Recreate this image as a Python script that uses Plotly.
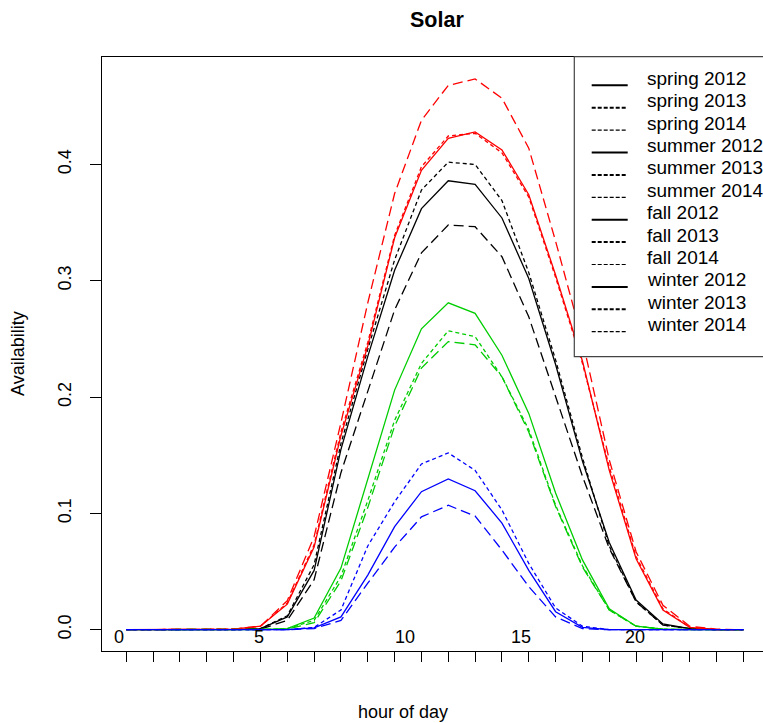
import plotly.graph_objects as go

# Hour of day (0-23)
hours = list(range(24))

# Average solar availability by hour, per season and year
spring_2012 = [0, 0, 0, 0, 0, 0.001, 0.011, 0.051, 0.155, 0.235, 0.309, 0.362,
               0.386, 0.383, 0.354, 0.302, 0.228, 0.145, 0.075, 0.0255, 0.005, 0.001, 0, 0]
spring_2013 = [0, 0, 0, 0, 0, 0.001, 0.012, 0.056, 0.160, 0.241, 0.318, 0.378,
               0.402, 0.400, 0.369, 0.307, 0.232, 0.148, 0.072, 0.024, 0.004, 0.001, 0, 0]
spring_2014 = [0, 0, 0, 0, 0, 0.0005, 0.008, 0.043, 0.135, 0.206, 0.275, 0.324,
               0.348, 0.3465, 0.3207, 0.269, 0.200, 0.132, 0.070, 0.024, 0.004, 0.001, 0, 0]

summer_2012 = [0, 0, 0, 0, 0.0005, 0.003, 0.022, 0.071, 0.167, 0.244, 0.337, 0.395,
               0.4225, 0.428, 0.4125, 0.374, 0.305, 0.231, 0.137, 0.061, 0.017, 0.002, 0, 0]
summer_2013 = [0, 0, 0, 0, 0.0005, 0.003, 0.023, 0.073, 0.170, 0.247, 0.339, 0.398,
               0.4245, 0.4268, 0.410, 0.372, 0.303, 0.229, 0.140, 0.063, 0.018, 0.002, 0, 0]
summer_2014 = [0, 0, 0, 0, 0.0005, 0.003, 0.025, 0.080, 0.178, 0.281, 0.375, 0.438,
               0.468, 0.4735, 0.457, 0.414, 0.334, 0.249, 0.146, 0.067, 0.021, 0.003, 0.0005, 0]

fall_2012 = [0, 0, 0, 0, 0, 0, 0.001, 0.010, 0.053, 0.129, 0.206, 0.2587,
             0.281, 0.272, 0.236, 0.186, 0.1175, 0.060, 0.018, 0.003, 0.0005, 0, 0, 0]
fall_2013 = [0, 0, 0, 0, 0, 0, 0.001, 0.008, 0.046, 0.111, 0.180, 0.229,
             0.257, 0.252, 0.2175, 0.172, 0.107, 0.055, 0.017, 0.003, 0.0005, 0, 0, 0]
fall_2014 = [0, 0, 0, 0, 0, 0, 0.0005, 0.006, 0.042, 0.105, 0.175, 0.225,
             0.2477, 0.245, 0.2175, 0.170, 0.106, 0.054, 0.017, 0.003, 0.0005, 0, 0, 0]

winter_2012 = [0, 0, 0, 0, 0, 0, 0, 0.0015, 0.011, 0.047, 0.0886, 0.1187,
               0.1296, 0.1195, 0.0917, 0.051, 0.0155, 0.002, 0, 0, 0, 0, 0, 0]
winter_2013 = [0, 0, 0, 0, 0, 0, 0, 0.002, 0.017, 0.072, 0.110, 0.1425,
               0.152, 0.137, 0.103, 0.057, 0.0187, 0.003, 0, 0, 0, 0, 0, 0]
winter_2014 = [0, 0, 0, 0, 0, 0, 0, 0.001, 0.008, 0.040, 0.071, 0.097,
               0.107, 0.0977, 0.0685, 0.037, 0.011, 0.001, 0, 0, 0, 0, 0, 0]

seasons = ["spring", "summer", "fall", "winter"]
years = ["2012", "2013", "2014"]
season_colors = {"spring": "#000000", "summer": "#FF0000",
                 "fall": "#00CD00", "winter": "#0000FF"}
year_dash = {"2012": "solid", "2013": "4px,3px", "2014": "10px,5px"}

series = {
    ("spring", "2012"): spring_2012, ("spring", "2013"): spring_2013, ("spring", "2014"): spring_2014,
    ("summer", "2012"): summer_2012, ("summer", "2013"): summer_2013, ("summer", "2014"): summer_2014,
    ("fall", "2012"): fall_2012, ("fall", "2013"): fall_2013, ("fall", "2014"): fall_2014,
    ("winter", "2012"): winter_2012, ("winter", "2013"): winter_2013, ("winter", "2014"): winter_2014,
}

# Hour labels written just under the zero line
hour_label_text = ["0", "5", "10", "15", "20"]
hour_label_pos = [-0.26, 4.96, 10.37, 14.7, 18.96]

y_ticks = [0.0, 0.1, 0.2, 0.3, 0.4]
y_tick_text = ["0.0", "0.1", "0.2", "0.3", "0.4"]

FONT = "Liberation Sans, Arial, Helvetica, sans-serif"
W, H = 763, 723
L, R, T, B = 102, 0, 57, 72
PW, PH = W - L - R, H - T - B


def px(x):
    return (x - L) / PW


def py(y):
    return (H - B - y) / PH


fig = go.Figure()
for s in seasons:
    for yr in years:
        fig.add_trace(go.Scatter(
            x=hours, y=series[(s, yr)], mode="lines",
            line=dict(color=season_colors[s], width=1.3, dash=year_dash[yr]),
            name=f"{s} {yr}", showlegend=False, hoverinfo="skip"))

annotations = []
shapes = []

# Hour labels
for txt, xv in zip(hour_label_text, hour_label_pos):
    annotations.append(dict(x=xv, y=-0.0063, xref="x", yref="y", text=txt,
                            showarrow=False, xanchor="center", yanchor="middle",
                            font=dict(family=FONT, size=18, color="black")))

# Titles
annotations.append(dict(x=px(437), y=py(20), xref="paper", yref="paper",
                        text="<b>Solar</b>", showarrow=False,
                        xanchor="center", yanchor="middle",
                        font=dict(family=FONT, size=21.5, color="black")))
annotations.append(dict(x=px(403), y=py(712), xref="paper", yref="paper",
                        text="hour of day", showarrow=False,
                        xanchor="center", yanchor="middle",
                        font=dict(family=FONT, size=18, color="black")))
annotations.append(dict(x=px(18), y=py(354), xref="paper", yref="paper",
                        text="Availability", showarrow=False, textangle=-90,
                        xanchor="center", yanchor="middle",
                        font=dict(family=FONT, size=18, color="black")))

# Legend box
shapes.append(dict(type="rect", xref="paper", yref="paper",
                   x0=px(574.3), x1=px(775), y0=py(356.7), y1=py(56.7),
                   line=dict(color="#444444", width=1.2), fillcolor="white",
                   layer="above"))

legend_width = {"2012": 2.0, "2013": 2.0, "2014": 1.2}
legend_dash = {"2012": "solid", "2013": "4px,2px", "2014": "4px,2px"}
row = 0
for s in seasons:
    for yr in years:
        yc = 78.3 + 22.4 * row
        shapes.append(dict(type="line", xref="paper", yref="paper",
                           x0=px(591.7), x1=px(627.7), y0=py(yc + 7), y1=py(yc + 7),
                           line=dict(color="black", width=legend_width[yr],
                                     dash=legend_dash[yr]),
                           layer="above"))
        annotations.append(dict(x=px(645), y=py(yc), xref="paper", yref="paper",
                                text=f"{s} {yr}", showarrow=False,
                                xanchor="left", yanchor="middle",
                                font=dict(family=FONT, size=19, color="black")))
        row += 1

fig.update_layout(
    width=W, height=H,
    margin=dict(l=L, r=R, t=T, b=B, pad=0),
    paper_bgcolor="white", plot_bgcolor="white",
    showlegend=False,
    annotations=annotations,
    shapes=shapes,
    xaxis=dict(range=[-0.906, 23.73], showgrid=False, zeroline=False,
               showline=True, mirror=True, linecolor="black", linewidth=1,
               ticks="outside", ticklen=10, tickwidth=1, tickcolor="black",
               tickvals=hours, showticklabels=False),
    yaxis=dict(range=[-0.0183, 0.4924], showgrid=False, zeroline=False,
               showline=True, mirror=False, linecolor="black", linewidth=1,
               ticks="outside", ticklen=11, tickwidth=1, tickcolor="black",
               tickvals=y_ticks, ticktext=y_tick_text, tickangle=-90,
               ticklabelstandoff=12,
               tickfont=dict(family=FONT, size=18, color="black")),
)

fig.write_html("out.html")
